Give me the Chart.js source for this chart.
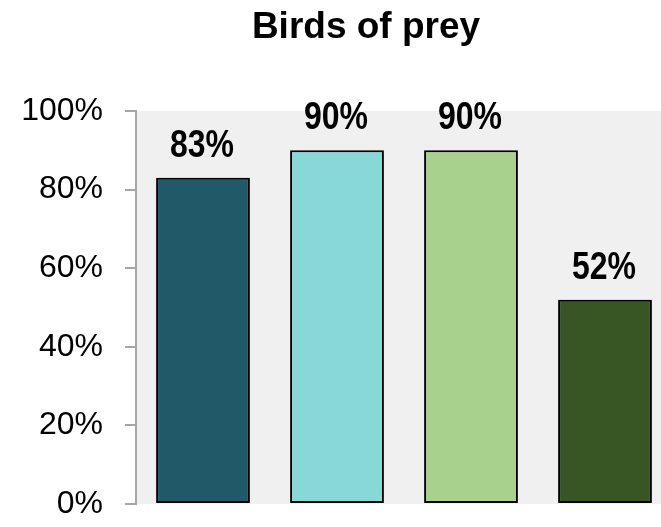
<!DOCTYPE html>
<html>
<head>
<meta charset="utf-8">
<script src="https://cdn.jsdelivr.net/npm/chart.js@4/dist/chart.umd.min.js"></script>
<style>
  html, body { margin: 0; padding: 0; background: #fff; overflow: hidden; }
  canvas { display: block; }
</style>
</head>
<body>
<canvas id="chart" width="680" height="527"></canvas>
<script>
const chartTitle = 'Birds of prey';
const categories = ['Group 1', 'Group 2', 'Group 3', 'Group 4'];
const percentages = [83, 90, 90, 52];
const barColors = ['#215968', '#89d8d8', '#a9d18e', '#375623'];
const yTicks = [0, 20, 40, 60, 80, 100];

const axisGray = '#a6a6a6';

// grey plot background plus a soft shadow under the bars
const plotBackground = {
    id: 'plotBackground',
    beforeDraw(chart) {
        const { ctx, chartArea } = chart;
        ctx.save();
        ctx.fillStyle = '#f0f0f0';
        ctx.fillRect(chartArea.left, chartArea.top, chartArea.right - chartArea.left, chartArea.bottom - chartArea.top);
        ctx.restore();
    },
    beforeDatasetsDraw(chart) {
        const ctx = chart.ctx;
        ctx.save();
        ctx.shadowColor = 'rgba(0, 0, 0, 0.18)';
        ctx.shadowBlur = 6;
    },
    afterDatasetsDraw(chart) {
        chart.ctx.restore();
    }
};

// bold, slightly condensed value labels above each bar, and the title
const valueLabels = {
    id: 'valueLabels',
    afterDraw(chart) {
        const ctx = chart.ctx;
        const meta = chart.getDatasetMeta(0);
        ctx.save();
        ctx.fillStyle = '#000';
        ctx.textAlign = 'center';
        ctx.textBaseline = 'alphabetic';
        ctx.font = 'bold 39px "Liberation Sans", Arial, sans-serif';
        meta.data.forEach((bar, i) => {
            ctx.save();
            ctx.translate(bar.x - 1, bar.y - 21);
            ctx.scale(0.82, 1);
            ctx.fillText(percentages[i] + '%', 0, 0);
            ctx.restore();
        });

        ctx.font = 'bold 37px "Liberation Sans", Arial, sans-serif';
        ctx.fillText(chartTitle, 366, 38);
        ctx.restore();
    }
};

new Chart(document.getElementById('chart'), {
    type: 'bar',
    data: {
        labels: categories,
        datasets: [{
            data: percentages,
            backgroundColor: barColors,
            borderColor: '#000',
            borderWidth: 2,
            borderSkipped: false,
            barPercentage: 0.7,
            categoryPercentage: 1
        }]
    },
    options: {
        responsive: false,
        animation: false,
        layout: {
            padding: { top: 111, bottom: 23, left: 0, right: 8 }
        },
        plugins: {
            legend: { display: false },
            title: { display: false },
            tooltip: { enabled: false }
        },
        scales: {
            x: {
                display: false
            },
            y: {
                min: 0,
                max: 100,
                afterBuildTicks: scale => {
                    scale.ticks = yTicks.map(v => ({ value: v }));
                },
                afterFit: scale => {
                    // fixed axis width; the layout padding already leaves room for the end labels
                    scale.width = 136;
                    scale.paddingTop = 0;
                    scale.paddingBottom = 0;
                },
                grid: {
                    drawOnChartArea: false,
                    drawTicks: true,
                    tickLength: 11,
                    color: axisGray,
                    lineWidth: 2
                },
                border: {
                    display: true,
                    color: axisGray,
                    width: 2
                },
                ticks: {
                    padding: 22,
                    color: '#000',
                    font: { family: '"Liberation Sans", Arial, sans-serif', size: 32 },
                    callback: v => v + '%'
                }
            }
        }
    },
    plugins: [plotBackground, valueLabels]
});
</script>
</body>
</html>
